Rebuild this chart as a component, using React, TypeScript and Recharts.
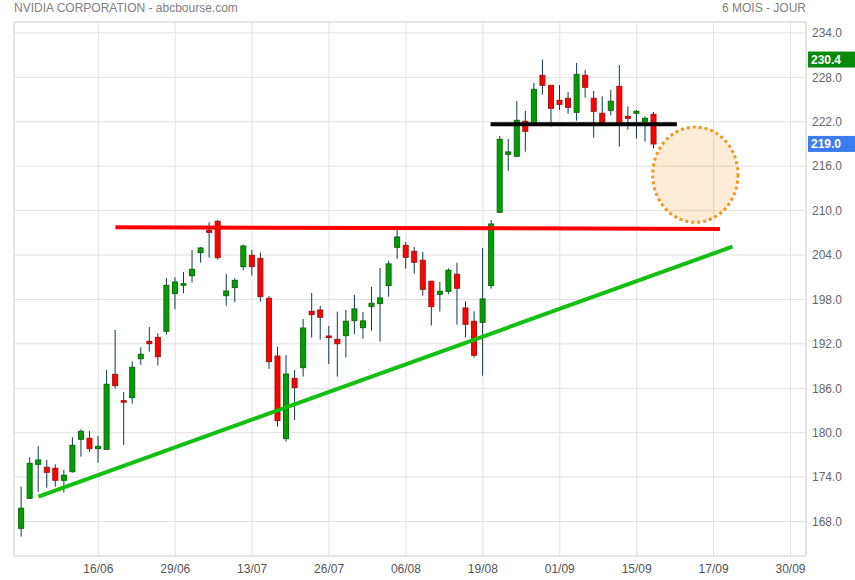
import { ComposedChart, Bar, XAxis, YAxis, CartesianGrid, ReferenceLine, ReferenceArea } from 'recharts';

// cours journaliers (ouverture / plus haut / plus bas / clôture)
const opens = [
  167.09, 171.14, 175.73, 175.33, 175.2, 173.57, 174.74, 179.11, 179.25, 177.85,
  177.76, 187.89, 184.33, 184.74, 190.0, 192.34, 192.88, 193.7, 198.8, 200.05,
  201.21, 204.32, 207.33, 208.55, 198.51, 199.6, 202.43, 203.96, 203.55, 198.15,
  190.36, 179.2, 187.35, 188.79, 196.4, 196.58, 193.06, 192.61, 193.11, 195.14,
  194.19, 197.03, 197.44, 199.87, 205.04, 205.31, 204.5, 203.29, 200.45, 198.7,
  199.1, 201.4, 196.85, 195.05, 194.91, 199.87, 209.77, 217.6, 217.33, 222.06,
  221.88, 228.27, 226.92, 224.89, 225.16, 223.27, 228.27, 225.16, 223.14, 223.54,
  226.78, 222.73, 223.14, 222.01, 223.0,
];
const highs = [
  172.72, 176.68, 178.21, 176.32, 175.73, 174.97, 179.38, 180.46, 180.24, 179.56,
  188.47, 193.87, 185.5, 189.64, 191.53, 194.28, 193.42, 200.9, 200.99, 201.71,
  204.68, 205.09, 208.42, 208.73, 201.44, 200.85, 205.4, 204.68, 204.32, 198.47,
  191.62, 190.5, 188.47, 195.36, 198.87, 197.12, 194.42, 196.35, 196.58, 198.61,
  196.31, 199.69, 202.25, 203.25, 207.39, 205.76, 205.09, 204.41, 200.5, 200.36,
  202.21, 202.97, 197.75, 196.4, 204.95, 208.73, 220.08, 219.67, 224.8, 223.45,
  227.23, 230.4, 226.95, 226.96, 226.02, 229.93, 228.99, 226.15, 225.43, 226.29,
  229.66, 224.08, 223.59, 222.73, 223.32,
];
const lows = [
  165.97, 171.1, 172.04, 172.58, 172.72, 171.91, 174.61, 176.77, 177.44, 175.96,
  177.76, 185.95, 178.35, 183.93, 189.19, 190.95, 189.06, 193.24, 196.67, 198.83,
  200.27, 202.97, 203.64, 203.37, 197.16, 197.66, 201.98, 201.21, 197.7, 188.61,
  180.82, 178.8, 181.72, 187.57, 192.84, 192.57, 189.28, 187.57, 190.14, 193.34,
  192.71, 193.79, 192.3, 198.38, 203.47, 202.16, 201.49, 198.52, 194.47, 196.36,
  198.7, 194.6, 192.89, 190.14, 187.71, 199.46, 209.77, 215.39, 217.33, 217.96,
  221.88, 225.66, 221.34, 223.59, 223.09, 222.15, 225.25, 219.85, 221.9, 222.87,
  218.64, 220.93, 219.72, 219.31, 218.37,
];
const closes = [
  169.8, 175.87, 176.32, 174.65, 173.57, 174.25, 178.3, 180.19, 177.85, 178.16,
  186.54, 186.36, 184.2, 188.83, 190.59, 192.03, 190.27, 199.91, 200.36, 200.12,
  202.07, 204.95, 207.06, 203.64, 199.14, 200.58, 205.22, 202.43, 198.38, 189.6,
  181.63, 187.93, 186.09, 194.14, 195.95, 195.59, 192.9, 192.03, 195.05, 196.72,
  195.1, 197.48, 198.2, 202.8, 206.44, 203.69, 203.02, 199.37, 197.03, 199.1,
  201.94, 199.51, 194.65, 190.46, 198.07, 208.19, 219.63, 217.92, 222.19, 220.71,
  226.38, 226.92, 223.81, 224.35, 223.95, 228.4, 226.65, 223.41, 221.92, 224.76,
  221.92, 222.46, 223.41, 222.46, 219.0,
];

const xTicks = [9, 18, 27, 36, 45, 54, 63, 72, 81, 90];
const xLabels = ['16/06', '29/06', '13/07', '26/07', '06/08', '19/08', '01/09', '15/09', '17/09', '30/09'];
const yTicks = [168, 174, 180, 186, 192, 198, 204, 210, 216, 222, 228, 234];

// tracés manuels
const resistance = [{ x: 11, y: 207.75 }, { x: 81.74, y: 207.52 }];
const support = [{ x: 1.99, y: 171.37 }, { x: 83.2, y: 205.13 }];
const plateau = [{ x: 54.9, y: 221.66 }, { x: 76.7, y: 221.66 }];
const target = { x1: 73.87, x2: 83.85, y1: 208.41, y2: 221.29 };

const xDomain = [-0.865, 91.81];
const yDomain = [163.35, 235.47];

const font = '"Liberation Sans", Arial, sans-serif';

const data = opens.map((o, i) => ({
  i,
  o,
  h: highs[i],
  l: lows[i],
  c: closes[i],
  range: [lows[i], highs[i]],
}));

const maxHigh = Math.max(...highs);
const lastClose = closes[closes.length - 1];

function Candle(props: any) {
  const { x, y, width, height, payload } = props;
  const { o, c, h, l } = payload;
  const up = c >= o;
  const k = height / (h - l);
  const top = y + (h - Math.max(o, c)) * k;
  const bot = y + (h - Math.min(o, c)) * k;
  const cx = x + width / 2;
  return (
    <g>
      <line x1={cx} x2={cx} y1={y} y2={y + height} stroke="#0e3a52" strokeWidth={1} />
      <rect
        x={x + 0.5}
        y={top}
        width={width - 1}
        height={Math.max(bot - top, 1.5)}
        fill={up ? '#00a000' : '#ff0000'}
        stroke={up ? '#0b6a0b' : '#a31515'}
        strokeWidth={1}
      />
    </g>
  );
}

function PriceTag({ viewBox, value, color }: any) {
  const { x, y, width } = viewBox;
  return (
    <g>
      <rect x={x + width + 2} y={y - 8} width={47} height={16} fill={color} />
      <text x={x + width + 5} y={y + 4.5} fill="#fff" fontSize={12} fontWeight="bold" fontFamily={font}>
        {value}
      </text>
    </g>
  );
}

export default function App() {
  return (
    <div style={{ position: 'absolute', left: 0, top: 0, width: 855, height: 580, background: '#fff', fontFamily: font }}>
      <div style={{ position: 'absolute', left: 14, top: 1, fontSize: 12, color: '#808080' }}>
        NVIDIA CORPORATION - abcbourse.com
      </div>
      <div style={{ position: 'absolute', right: 49, top: 1, fontSize: 12, color: '#808080' }}>
        6 MOIS - JOUR
      </div>
      <ComposedChart width={855} height={580} data={data} margin={{ top: 22, right: 0, bottom: 0, left: 14 }}>
        <CartesianGrid stroke="#e0e0e0" />
        <ReferenceArea
          x1={xDomain[0]}
          x2={xDomain[1]}
          y1={yDomain[0]}
          y2={yDomain[1]}
          fill="none"
          stroke="#dcdcdc"
          ifOverflow="visible"
        />
        <XAxis
          type="number"
          dataKey="i"
          domain={xDomain}
          allowDataOverflow
          ticks={xTicks}
          interval={0}
          tickFormatter={(v: number) => xLabels[xTicks.indexOf(v)]}
          axisLine={false}
          tickLine={false}
          height={24}
          tick={{ fill: '#555', fontSize: 12, fontFamily: font }}
        />
        <YAxis
          orientation="right"
          type="number"
          domain={yDomain}
          allowDataOverflow
          ticks={yTicks}
          interval={0}
          tickFormatter={(v: number) => v.toFixed(1)}
          axisLine={false}
          tickLine={false}
          tickMargin={0}
          width={49}
          tick={{ fill: '#666', fontSize: 12, fontFamily: font }}
        />
        <Bar dataKey="range" barSize={6} shape={<Candle />} isAnimationActive={false} />
        <ReferenceLine segment={resistance} stroke="#ff0000" strokeWidth={4} />
        <ReferenceLine segment={support} stroke="#11c011" strokeWidth={4} />
        <ReferenceLine segment={plateau} stroke="#000" strokeWidth={4} />
        <ReferenceArea
          {...target}
          shape={(p: any) => (
            <ellipse
              cx={p.x + p.width / 2}
              cy={p.y + p.height / 2}
              rx={p.width / 2}
              ry={p.height / 2}
              fill="#f7931e"
              fillOpacity={0.18}
              stroke="#f7931e"
              strokeWidth={3}
              strokeDasharray="3 3"
            />
          )}
        />
        <ReferenceLine
          y={maxHigh}
          stroke="none"
          label={(p: any) => <PriceTag {...p} value={maxHigh.toFixed(1)} color="#0a8a0a" />}
        />
        <ReferenceLine
          y={lastClose}
          stroke="none"
          label={(p: any) => <PriceTag {...p} value={lastClose.toFixed(1)} color="#3d7cf0" />}
        />
      </ComposedChart>
    </div>
  );
}
